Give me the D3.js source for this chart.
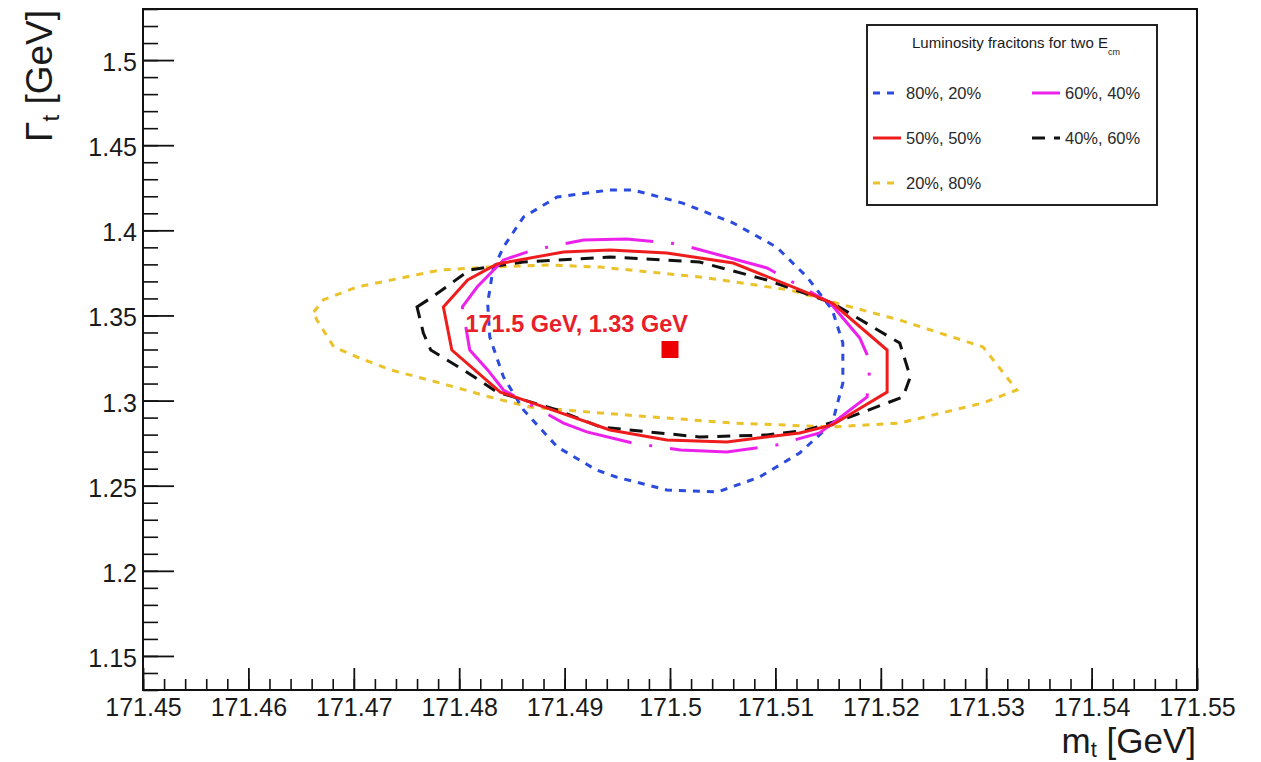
<!DOCTYPE html>
<html>
<head>
<meta charset="utf-8">
<script src="https://cdn.jsdelivr.net/npm/d3@7"></script>
<style>
  html, body { margin: 0; padding: 0; background: #fff; }
  svg { display: block; }
  text { font-family: "Liberation Sans", Arial, Helvetica, sans-serif; }
</style>
</head>
<body>
<svg id="chart" width="1261" height="762"></svg>
<script>
// ---------------- data ----------------
const xTickValues = [171.45, 171.46, 171.47, 171.48, 171.49, 171.5, 171.51, 171.52, 171.53, 171.54, 171.55];
const xTickLabels = ["171.45", "171.46", "171.47", "171.48", "171.49", "171.5", "171.51", "171.52", "171.53", "171.54", "171.55"];
const yTickValues = [1.15, 1.2, 1.25, 1.3, 1.35, 1.4, 1.45, 1.5];
const yTickLabels = ["1.15", "1.2", "1.25", "1.3", "1.35", "1.4", "1.45", "1.5"];

// contour polygons [m_t, Gamma_t] in GeV
const contour80_20 = [
  [171.4943,1.4237],[171.4965,1.4237],[171.5012,1.4160],[171.5060,1.4043],[171.5101,1.3902],
  [171.5130,1.3726],[171.5154,1.3532],[171.5164,1.3338],[171.5164,1.3103],[171.5154,1.2868],
  [171.5123,1.2692],[171.5085,1.2551],[171.5045,1.2463],[171.4997,1.2475],[171.4949,1.2551],
  [171.4930,1.2593],[171.4893,1.2728],[171.4861,1.2945],[171.4842,1.3139],[171.4829,1.3373],
  [171.4827,1.3573],[171.4832,1.3767],[171.4842,1.3902],[171.4861,1.4078],[171.4893,1.4196]
];
const contour60_40 = [
  [171.4803,1.3550],[171.4817,1.3667],[171.4842,1.3826],[171.4870,1.3884],[171.4918,1.3943],
  [171.4959,1.3949],[171.5008,1.3920],[171.5092,1.3779],[171.5152,1.3573],[171.5180,1.3368],
  [171.5190,1.3227],[171.5187,1.3021],[171.5142,1.2810],[171.5101,1.2739],[171.5054,1.2698],
  [171.5010,1.2710],[171.4964,1.2751],[171.4921,1.2816],[171.4899,1.2868],[171.4842,1.3062],
  [171.4827,1.3180],[171.4810,1.3297]
];
const contour50_50 = [
  [171.4785,1.3550],[171.4808,1.3708],[171.4836,1.3802],[171.4899,1.3873],[171.4943,1.3884],
  [171.4997,1.3867],[171.5060,1.3808],[171.5117,1.3667],[171.5154,1.3573],[171.5206,1.3297],
  [171.5206,1.3050],[171.5154,1.2857],[171.5123,1.2810],[171.5054,1.2757],[171.4997,1.2769],
  [171.4943,1.2827],[171.4861,1.3004],[171.4839,1.3050],[171.4793,1.3297]
];
const contour40_60 = [
  [171.4760,1.3550],[171.4773,1.3602],[171.4810,1.3767],[171.4861,1.3814],[171.4943,1.3843],
  [171.5028,1.3814],[171.5092,1.3708],[171.5154,1.3573],[171.5218,1.3338],[171.5228,1.3139],
  [171.5221,1.3021],[171.5171,1.2904],[171.5130,1.2827],[171.5092,1.2798],[171.5028,1.2786],
  [171.4934,1.2845],[171.4893,1.2945],[171.4836,1.3050],[171.4804,1.3180],[171.4773,1.3297],
  [171.4766,1.3397]
];
const contour20_80 = [
  [171.4662,1.3520],[171.4671,1.3591],[171.4703,1.3667],[171.4782,1.3767],[171.4829,1.3784],
  [171.4886,1.3796],[171.4934,1.3784],[171.5028,1.3726],[171.5114,1.3649],[171.5154,1.3579],
  [171.5218,1.3473],[171.5297,1.3315],[171.5329,1.3062],[171.5297,1.2986],[171.5218,1.2868],
  [171.5154,1.2845],[171.5060,1.2868],[171.4934,1.2927],[171.4867,1.2962],[171.4829,1.3021],
  [171.4782,1.3103],[171.4735,1.3180],[171.4703,1.3256],[171.4681,1.3315],[171.4665,1.3473]
];
const bestFit = [171.5, 1.33];
const bestFitLabel = "171.5 GeV, 1.33 GeV";

const seriesNames = ["80%, 20%", "60%, 40%", "50%, 50%", "40%, 60%", "20%, 80%"];
const legendTitle = "Luminosity fracitons for two E";
const legendTitleSub = "cm";

// ---------------- styles ----------------
const seriesStyle = {
  "80%, 20%": { data: contour80_20, color: "#2a4ae0", dash: "7 7" },
  "60%, 40%": { data: contour60_40, color: "#ec22ec", dash: "88 18 3 18" },
  "50%, 50%": { data: contour50_50, color: "#ee1c1c", dash: null },
  "40%, 60%": { data: contour40_60, color: "#111111", dash: "13 9" },
  "20%, 80%": { data: contour20_80, color: "#ecc22a", dash: "7 7" }
};
const drawOrder = ["20%, 80%", "80%, 20%", "40%, 60%", "60%, 40%", "50%, 50%"];

// ---------------- layout ----------------
const svg = d3.select("#chart");
svg.append("rect").attr("width", 1261).attr("height", 762).attr("fill", "#fff");

const frame = { left: 143, right: 1197, top: 9, bottom: 690 };
const x = d3.scaleLinear().domain([171.45, 171.55]).range([frame.left, frame.right]);
const y = d3.scaleLinear().domain([1.13, 1.53]).range([frame.bottom, frame.top]);

const textColor = "#1a1a1a";

// minor ticks
const xMinor = d3.range(0, 51).map(i => 171.45 + i * 0.002);
const yMinor = d3.range(0, 41).map(i => 1.13 + i * 0.01);

svg.append("g")
  .attr("transform", `translate(0,${frame.bottom})`)
  .call(d3.axisBottom(x).tickValues(xMinor).tickSize(-11).tickFormat(""))
  .call(g => g.select(".domain").remove())
  .call(g => g.selectAll("line").attr("stroke", "#111").attr("stroke-width", 1.6));

svg.append("g")
  .attr("transform", `translate(${frame.left},0)`)
  .call(d3.axisLeft(y).tickValues(yMinor).tickSize(-15).tickFormat(""))
  .call(g => g.select(".domain").remove())
  .call(g => g.selectAll("line").attr("stroke", "#111").attr("stroke-width", 1.6));

// major ticks with labels
svg.append("g")
  .attr("transform", `translate(0,${frame.bottom})`)
  .call(d3.axisBottom(x).tickValues(xTickValues).tickSize(-22).tickPadding(8)
        .tickFormat((d, i) => xTickLabels[i]))
  .call(g => g.select(".domain").remove())
  .call(g => g.selectAll("line").attr("stroke", "#111").attr("stroke-width", 1.8))
  .call(g => g.selectAll("text").attr("font-size", 25).attr("fill", textColor)
        .attr("font-family", "Liberation Sans, Arial, sans-serif"));

svg.append("g")
  .attr("transform", `translate(${frame.left},0)`)
  .call(d3.axisLeft(y).tickValues(yTickValues).tickSize(-31).tickPadding(6)
        .tickFormat((d, i) => yTickLabels[i]))
  .call(g => g.select(".domain").remove())
  .call(g => g.selectAll("line").attr("stroke", "#111").attr("stroke-width", 1.8))
  .call(g => g.selectAll("text").attr("font-size", 25).attr("fill", textColor)
        .attr("dy", "0.42em")
        .attr("font-family", "Liberation Sans, Arial, sans-serif"));

// contours
const line = d3.line().x(d => x(d[0])).y(d => y(d[1])).curve(d3.curveLinearClosed);
const plot = svg.append("g");
drawOrder.forEach(name => {
  const s = seriesStyle[name];
  plot.append("path")
    .datum(s.data)
    .attr("d", line)
    .attr("fill", "none")
    .attr("stroke", s.color)
    .attr("stroke-width", 3)
    .attr("stroke-linejoin", "miter")
    .attr("stroke-dasharray", s.dash);
});

// best-fit marker and label
plot.append("rect")
  .attr("x", x(bestFit[0]) - 8.5).attr("y", y(bestFit[1]) - 8.5)
  .attr("width", 17).attr("height", 17)
  .attr("fill", "#ee0000");
plot.append("text")
  .attr("x", x(bestFit[0]) + 18).attr("y", y(bestFit[1]) - 18)
  .attr("text-anchor", "end")
  .attr("font-size", 23.5).attr("font-weight", "bold")
  .attr("fill", "#e8202a")
  .text(bestFitLabel);

// frame
svg.append("rect")
  .attr("x", frame.left).attr("y", frame.top)
  .attr("width", frame.right - frame.left).attr("height", frame.bottom - frame.top)
  .attr("fill", "none").attr("stroke", "#111").attr("stroke-width", 2);

// axis titles
const xt = svg.append("text")
  .attr("x", 1196).attr("y", 753)
  .attr("text-anchor", "end")
  .attr("font-size", 35).attr("fill", textColor);
xt.append("tspan").text("m");
xt.append("tspan").attr("font-size", 22).attr("dy", 4).text("t");
xt.append("tspan").attr("dy", -4).text(" [GeV]");

const yt = svg.append("text")
  .attr("transform", "translate(52,10) rotate(-90)")
  .attr("text-anchor", "end")
  .attr("font-size", 37).attr("fill", textColor);
yt.append("tspan").text("Γ");
yt.append("tspan").attr("font-size", 24).attr("dy", 7).text("t");
yt.append("tspan").attr("dy", -7).text(" [GeV]");

// legend
const lg = svg.append("g");
lg.append("rect")
  .attr("x", 867).attr("y", 25).attr("width", 290).attr("height", 180)
  .attr("fill", "#fff").attr("stroke", "#222").attr("stroke-width", 2);
const lt = lg.append("text")
  .attr("x", 1016).attr("y", 48).attr("text-anchor", "middle")
  .attr("font-size", 15).attr("fill", textColor);
lt.append("tspan").text(legendTitle);
lt.append("tspan").attr("font-size", 9).attr("dy", 7).text(legendTitleSub);

const legendPos = [
  { col: 0, row: 0 }, { col: 1, row: 0 },
  { col: 0, row: 1 }, { col: 1, row: 1 },
  { col: 0, row: 2 }
];
const colX = [873, 1032];
const rowY = [93, 138, 183];
seriesNames.forEach((name, i) => {
  const s = seriesStyle[name];
  const p = legendPos[i];
  const x0 = colX[p.col], yy = rowY[p.row];
  lg.append("line")
    .attr("x1", x0).attr("x2", x0 + 28).attr("y1", yy).attr("y2", yy)
    .attr("stroke", s.color).attr("stroke-width", 3)
    .attr("stroke-dasharray", s.dash);
  lg.append("text")
    .attr("x", x0 + 33).attr("y", yy + 6)
    .attr("font-size", 16.5).attr("fill", "#2a2a2a")
    .text(name);
});
</script>
</body>
</html>
